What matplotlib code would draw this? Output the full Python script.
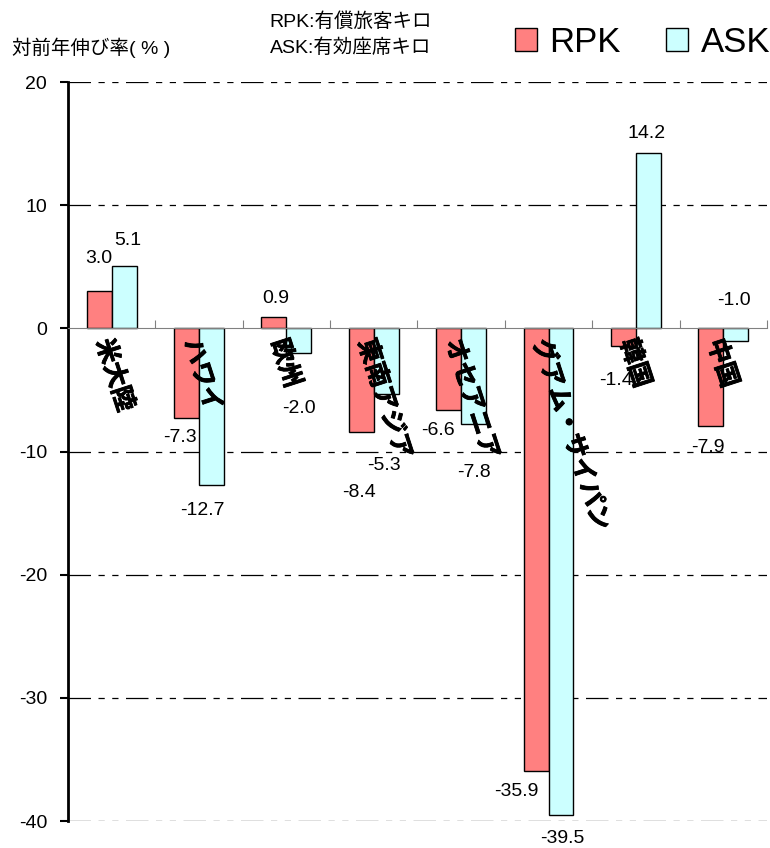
import matplotlib
matplotlib.use("Agg")
import matplotlib.pyplot as plt
import matplotlib.patheffects as pe
import numpy as np

plt.rcParams['font.family'] = ['Liberation Sans', 'Noto Sans CJK JP']
plt.rcParams['axes.unicode_minus'] = False

regions = ['米大陸', 'ハワイ', '欧州', '東南アジア', 'オセアニア', 'グアム・サイパン', '韓国', '中国']
rpk = [3.0, -7.3, 0.9, -8.4, -6.6, -35.9, -1.4, -7.9]
ask = [5.1, -12.7, -2.0, -5.3, -7.8, -39.5, 14.2, -1.0]
yticks = [-40, -30, -20, -10, 0, 10, 20]

# label nudges (x in category units, y in %), as placed in the original
rpk_nudge = [(0.0, 2.7), (-0.07, -1.55), (0.02, 1.5), (-0.03, -4.9),
             (-0.12, -1.7), (-0.22, -1.7), (-0.08, -2.8), (-0.03, -1.8)]
ask_nudge = [(0.04, 2.0), (-0.1, -2.1), (0.0, -4.5), (-0.03, -5.8),
             (0.0, -3.9), (0.02, -1.9), (-0.02, 1.6), (-0.02, 3.3)]


def main():
    fig = plt.figure(figsize=(7.7, 8.48), dpi=100)
    ax = fig.add_axes([0.0883, 0.0318, 0.9077, 0.8715])

    x = np.arange(len(regions))
    w = 0.286
    b1 = ax.bar(x - w / 2, rpk, w, color='#FF8080', edgecolor='black', linewidth=1, label='RPK', zorder=3)
    b2 = ax.bar(x + w / 2, ask, w, color='#CCFFFF', edgecolor='black', linewidth=1, label='ASK', zorder=3)

    ax.set_xlim(-0.5, 7.5)
    ax.set_ylim(-40, 20)
    ax.set_yticks(yticks)
    ax.set_yticklabels([str(t) for t in yticks], fontsize=14)
    ax.tick_params(axis='y', direction='out', length=6, width=1.5, pad=9)

    # dash-dot-dot grid lines
    for t in yticks:
        if t != 0:
            ax.axhline(t, color='black', linewidth=0.9, dashes=(18, 6, 5, 6, 5, 6), zorder=1)

    # category axis at zero with upward ticks at the boundaries
    ax.spines['bottom'].set_position(('data', 0))
    ax.spines['bottom'].set_color('#808080')
    ax.spines['bottom'].set_zorder(4)
    ax.set_xticks(np.arange(len(regions)) + 0.5)
    ax.set_xticklabels([])
    ax.tick_params(axis='x', direction='in', length=6, color='#808080')
    ax.spines['top'].set_visible(False)
    ax.spines['right'].set_visible(False)
    ax.spines['left'].set_linewidth(2)

    for i, name in enumerate(regions):
        ax.text(i - 0.1, -0.9, name, rotation=-72, rotation_mode='anchor',
                ha='left', va='center', fontsize=18, fontweight='bold', zorder=5,
                path_effects=[pe.withStroke(linewidth=0.6, foreground='black')])

    for i in range(len(regions)):
        ax.text(x[i] - w / 2 + rpk_nudge[i][0], rpk[i] + rpk_nudge[i][1], f'{rpk[i]:.1f}',
                ha='center', va='center', fontsize=14, zorder=6)
        ax.text(x[i] + w / 2 + ask_nudge[i][0], ask[i] + ask_nudge[i][1], f'{ask[i]:.1f}',
                ha='center', va='center', fontsize=14, zorder=6)

    fig.text(0.015, 0.944, '対前年伸び率( % )', fontsize=14, va='center')
    fig.text(0.35, 0.974, 'RPK:有償旅客キロ', fontsize=14, va='center')
    fig.text(0.35, 0.944, 'ASK:有効座席キロ', fontsize=14, va='center')

    fig.legend(handles=[b1, b2], loc='center right', bbox_to_anchor=(1.0, 0.950),
               ncol=2, frameon=False, fontsize=25, handlelength=0.65, handleheight=0.65,
               handletextpad=0.35, columnspacing=1.3, borderpad=0, borderaxespad=0)

    fig.savefig('out.png', dpi=100)


if __name__ == "__main__":
    main()
